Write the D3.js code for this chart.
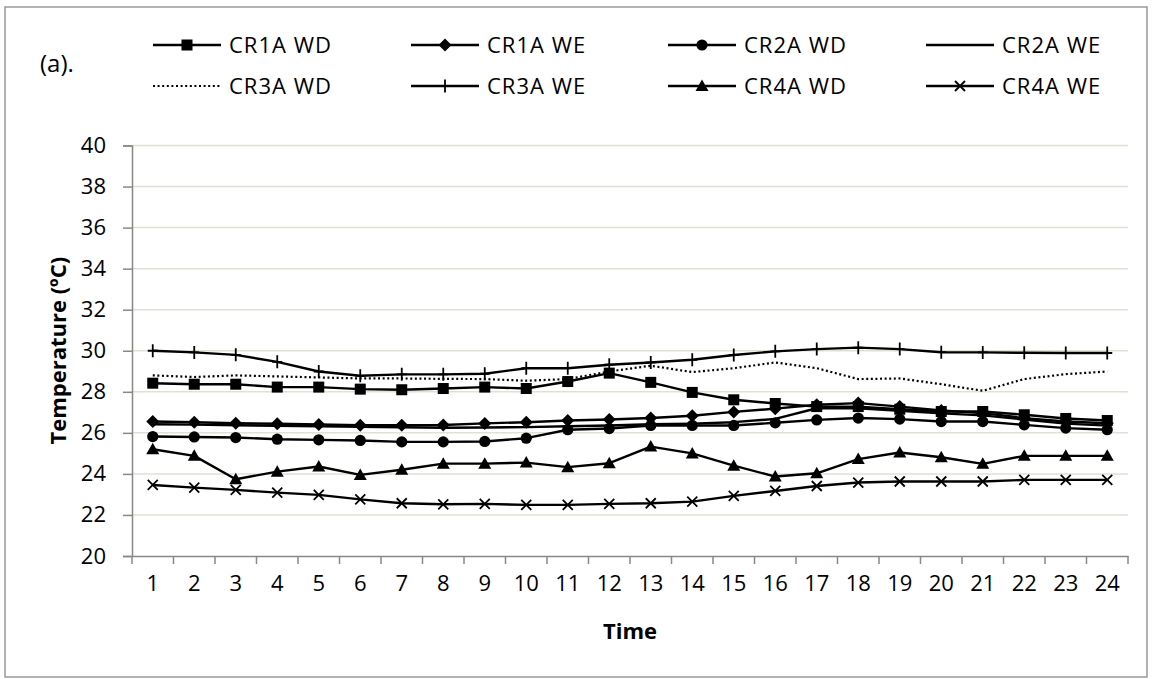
<!DOCTYPE html>
<html>
<head>
<meta charset="utf-8">
<script src="https://cdn.jsdelivr.net/npm/d3@7"></script>
<style>
  html, body { margin: 0; padding: 0; background: #fff; }
  svg { display: block; }
  text { font-family: "Open Sans", "Noto Sans", sans-serif; fill: #000; }
</style>
</head>
<body>
<svg id="chart" width="1157" height="679"></svg>
<script>
// Hourly temperature (°C), weekday (WD) and weekend (WE) profiles per room
const hours = ["1","2","3","4","5","6","7","8","9","10","11","12","13","14","15","16","17","18","19","20","21","22","23","24"];
const yTicks = [20, 22, 24, 26, 28, 30, 32, 34, 36, 38, 40];

const cr1aWD = [28.42,28.37,28.37,28.23,28.23,28.13,28.10,28.16,28.23,28.16,28.50,28.91,28.46,27.97,27.61,27.43,27.28,27.28,27.15,27.04,27.04,26.88,26.70,26.60];
const cr1aWE = [26.55,26.52,26.47,26.44,26.41,26.37,26.37,26.38,26.46,26.52,26.60,26.65,26.72,26.83,27.02,27.18,27.37,27.45,27.28,27.09,26.96,26.72,26.55,26.47];
const cr2aWD = [25.82,25.80,25.77,25.69,25.66,25.63,25.56,25.56,25.58,25.74,26.15,26.21,26.36,26.36,26.36,26.49,26.63,26.72,26.67,26.55,26.55,26.39,26.23,26.15];
const cr2aWE = [26.42,26.40,26.37,26.34,26.32,26.30,26.27,26.25,26.26,26.28,26.32,26.36,26.42,26.45,26.52,26.68,27.20,27.20,27.08,26.95,26.85,26.65,26.45,26.35];
const cr3aWD = [28.80,28.72,28.80,28.75,28.70,28.65,28.65,28.63,28.62,28.54,28.62,28.99,29.27,28.96,29.15,29.43,29.15,28.62,28.65,28.37,28.05,28.62,28.86,28.99];
const cr3aWE = [30.00,29.92,29.80,29.46,28.99,28.78,28.85,28.85,28.88,29.15,29.15,29.32,29.43,29.56,29.79,29.97,30.08,30.15,30.08,29.93,29.92,29.90,29.89,29.89];
const cr4aWD = [25.20,24.88,23.74,24.11,24.36,23.95,24.20,24.50,24.50,24.55,24.33,24.52,25.33,25.00,24.40,23.87,24.03,24.72,25.04,24.81,24.49,24.88,24.88,24.88];
const cr4aWE = [23.46,23.33,23.22,23.09,22.98,22.76,22.57,22.52,22.54,22.49,22.49,22.54,22.57,22.65,22.93,23.17,23.41,23.58,23.63,23.63,23.63,23.71,23.71,23.71];

const seriesNames = ["CR1A WD","CR1A WE","CR2A WD","CR2A WE","CR3A WD","CR3A WE","CR4A WD","CR4A WE"];
const seriesValues = [cr1aWD, cr1aWE, cr2aWD, cr2aWE, cr3aWD, cr3aWE, cr4aWD, cr4aWE];
const seriesMarkers = ["square","diamond","circle","none","none","plus","triangle","x"];
const seriesDash = [null, null, null, null, "2,2.6", null, null, null];

const svg = d3.select("#chart");
const plot = { left: 132, right: 1128, top: 145.5, bottom: 556 };

// outer chart frame
svg.append("rect")
  .attr("x", 5).attr("y", 7).attr("width", 1142).attr("height", 670)
  .attr("fill", "#fff").attr("stroke", "#9a9a9a").attr("stroke-width", 1.5);

const x = d3.scaleBand().domain(hours).range([plot.left, plot.right]);
const xc = h => x(h) + x.bandwidth() / 2;
const y = d3.scaleLinear().domain([20, 40]).range([plot.bottom, plot.top]);

// horizontal gridlines
svg.append("g")
  .selectAll("line")
  .data(yTicks.filter(t => t !== 20))
  .join("line")
  .attr("x1", plot.left).attr("x2", plot.right)
  .attr("y1", d => y(d)).attr("y2", d => y(d))
  .attr("stroke", "#e3dfd3").attr("stroke-width", 1.5);

// y axis
const yAxis = svg.append("g")
  .attr("transform", `translate(${plot.left},0)`)
  .call(d3.axisLeft(y).tickValues(yTicks).tickSize(9).tickPadding(17).tickFormat(d3.format("d")));
yAxis.select(".domain").attr("stroke", "#888").attr("stroke-width", 1.5);
yAxis.selectAll(".tick line").attr("stroke", "#888").attr("stroke-width", 1.5);
yAxis.selectAll(".tick text")
  .style("font-family", "'Open Sans', sans-serif").style("font-size", "22px").attr("fill", "#000");

// x axis: labels centred in each hour, tick marks on hour boundaries
const xAxis = svg.append("g")
  .attr("transform", `translate(0,${plot.bottom})`)
  .call(d3.axisBottom(x).tickSize(0).tickPadding(35));
xAxis.select(".domain").attr("stroke", "#888").attr("stroke-width", 1.5);
xAxis.selectAll(".tick text")
  .style("font-family", "'Open Sans', sans-serif").style("font-size", "22px").attr("fill", "#000")
  .attr("dy", "0");
const bounds = hours.map(h => x(h)).concat([x.range()[1]]);
xAxis.append("g").selectAll("line")
  .data(bounds)
  .join("line")
  .attr("x1", d => d).attr("x2", d => d)
  .attr("y1", 0).attr("y2", 8)
  .attr("stroke", "#888").attr("stroke-width", 1.5);

// axis titles
svg.append("text")
  .attr("transform", `translate(66,${(plot.top + plot.bottom) / 2}) rotate(-90)`)
  .attr("text-anchor", "middle")
  .style("font-size", "22px").style("font-weight", "bold")
  .text("Temperature (ºC)");
svg.append("text")
  .attr("x", (plot.left + plot.right) / 2).attr("y", 639)
  .attr("text-anchor", "middle")
  .style("font-size", "22px").style("font-weight", "bold")
  .text("Time");

// panel label
svg.append("text")
  .attr("x", 40).attr("y", 72)
  .style("font-size", "24px")
  .text("(a).");

// marker drawing
function drawMarker(g, kind) {
  if (kind === "square") {
    g.append("rect").attr("x", -5.5).attr("y", -5.5).attr("width", 11).attr("height", 11).attr("fill", "#000");
  } else if (kind === "diamond") {
    g.append("path").attr("d", "M0,-6.5L6.5,0L0,6.5L-6.5,0Z").attr("fill", "#000");
  } else if (kind === "circle") {
    g.append("circle").attr("r", 5.6).attr("fill", "#000");
  } else if (kind === "triangle") {
    g.append("path").attr("d", "M0,-6.5L6.5,5L-6.5,5Z").attr("fill", "#000");
  } else if (kind === "x") {
    g.append("path").attr("d", "M-5,-5L5,5M-5,5L5,-5").attr("stroke", "#000").attr("stroke-width", 1.8).attr("fill", "none");
  } else if (kind === "plus") {
    g.append("path").attr("d", "M0,-6.5L0,6.5M-5,0L5,0").attr("stroke", "#000").attr("stroke-width", 1.8).attr("fill", "none");
  }
}

// series lines and markers
const line = d3.line().x((d, i) => xc(hours[i])).y(d => y(d));
const seriesG = svg.append("g");
seriesNames.forEach((name, s) => {
  const vals = seriesValues[s];
  seriesG.append("path")
    .datum(vals)
    .attr("d", line)
    .attr("fill", "none")
    .attr("stroke", "#000")
    .attr("stroke-width", seriesDash[s] ? 2.2 : 2.4)
    .attr("stroke-dasharray", seriesDash[s])
    .attr("stroke-linejoin", "round");
  if (seriesMarkers[s] !== "none") {
    seriesG.append("g").selectAll("g")
      .data(vals)
      .join("g")
      .attr("transform", (d, i) => `translate(${xc(hours[i])},${y(d)})`)
      .each(function () { drawMarker(d3.select(this), seriesMarkers[s]); });
  }
});

// legend: two rows of four entries
const legendCols = [153, 411, 668, 926];
const legendRows = [45, 86];
seriesNames.forEach((name, s) => {
  const col = s % 4, row = Math.floor(s / 4);
  const gx = legendCols[col], gy = legendRows[row];
  const g = svg.append("g").attr("transform", `translate(${gx},${gy})`);
  g.append("line")
    .attr("x1", 0).attr("x2", 68).attr("y1", 0).attr("y2", 0)
    .attr("stroke", "#000")
    .attr("stroke-width", seriesDash[s] ? 2.2 : 2.4)
    .attr("stroke-dasharray", seriesDash[s]);
  if (seriesMarkers[s] !== "none") {
    const m = g.append("g").attr("transform", "translate(34,0)");
    drawMarker(m, seriesMarkers[s]);
  }
  g.append("text")
    .attr("x", 76).attr("y", 0).attr("dy", "0.35em")
    .style("font-size", "22px").style("letter-spacing", "1px")
    .text(name);
});
</script>
</body>
</html>
